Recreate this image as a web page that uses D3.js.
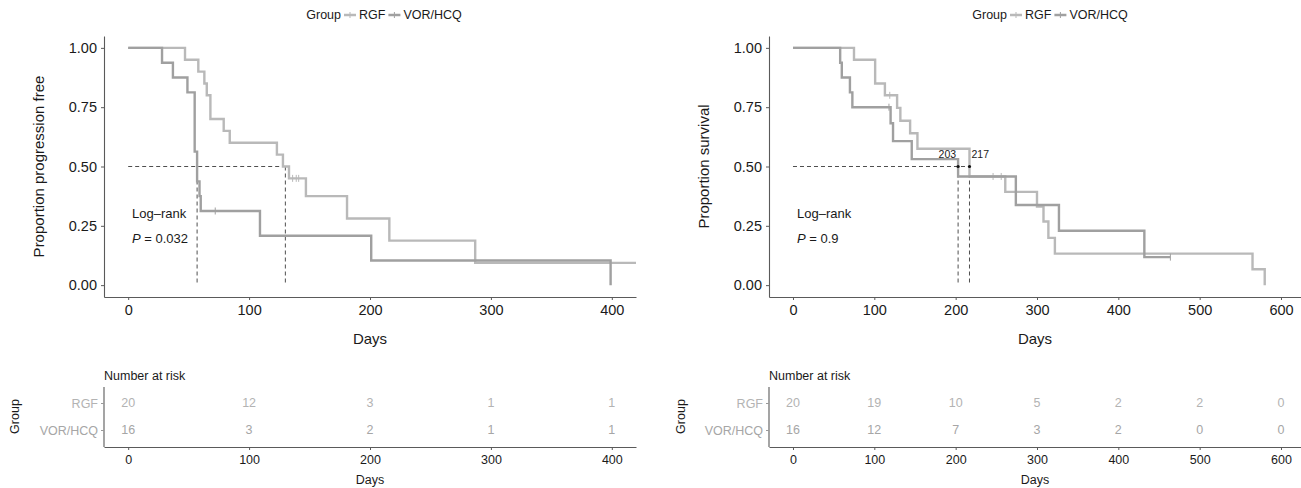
<!DOCTYPE html>
<html><head><meta charset="utf-8">
<script src="https://cdn.jsdelivr.net/npm/d3@7"></script>
<style>
body{margin:0;background:#fff;}
text{font-family:"Liberation Sans",Arial,Helvetica,sans-serif;}
</style>
</head><body>
<svg id="chart" width="1301" height="488"></svg>
<script>
// ---------- DATA ----------
const groups = ["RGF", "VOR/HCQ"];
const yTicks = [0, 0.25, 0.5, 0.75, 1];

// Left panel: progression-free
const pfsXTicks = [0, 100, 200, 300, 400];
const pfsRgfDays  = [0, 47, 58, 63, 65, 68, 79, 84, 123, 128, 133, 147, 181, 216, 287, 420];
const pfsRgfSurv  = [1, 0.95, 0.90, 0.85, 0.80, 0.70, 0.65, 0.60, 0.55, 0.50, 0.45, 0.375, 0.281, 0.1875, 0.094, 0.094];
const pfsRgfCensorDays = [136, 139, 141];
const pfsRgfCensorSurv = [0.45, 0.45, 0.45];
const pfsVorDays  = [0, 28, 37, 49, 55, 57, 59, 60, 109, 201, 399];
const pfsVorSurv  = [1, 0.9375, 0.875, 0.8125, 0.5625, 0.4375, 0.375, 0.3125, 0.208, 0.104, 0];
const pfsVorCensorDays = [72];
const pfsVorCensorSurv = [0.3125];
const pfsMedians = [57, 130];
const pfsRiskRgf = [20, 12, 3, 1, 1];
const pfsRiskVor = [16, 3, 2, 1, 1];
const pfsPValue = "0.032";

// Right panel: overall survival
const osXTicks = [0, 100, 200, 300, 400, 500, 600];
const osRgfDays = [0, 75, 101, 113, 128, 132, 144, 153, 217, 261, 300, 308, 314, 322, 565, 580];
const osRgfSurv = [1, 0.95, 0.85, 0.80, 0.747, 0.693, 0.64, 0.575, 0.458, 0.393, 0.331, 0.268, 0.199, 0.133, 0.067, 0];
const osRgfCensorDays = [119, 246, 256];
const osRgfCensorSurv = [0.80, 0.458, 0.458];
const osVorDays = [0, 58, 60, 70, 73, 120, 123, 146, 203, 274, 327, 432, 464];
const osVorSurv = [1, 0.9375, 0.875, 0.8125, 0.75, 0.682, 0.607, 0.531, 0.458, 0.338, 0.229, 0.118, 0.118];
const osVorCensorDays = [118, 464];
const osVorCensorSurv = [0.75, 0.118];
const osMedians = [203, 217];
const osRiskRgf = [20, 19, 10, 5, 2, 2, 0];
const osRiskVor = [16, 12, 7, 3, 2, 0, 0];
const osPValue = "0.9";

// ---------- STYLE ----------
const colRgf = "#b9b9b9";
const colVor = "#a0a0a0";
const txtRgf = "#b3b3b3";
const txtVor = "#a6a6a6";
const axisCol = "#5a5a5a";
const textCol = "#1a1a1a";

const svg = d3.select("#chart");

function zip(a, b) { return a.map((d, i) => [d, b[i]]); }

function drawPanel(cfg) {
  const g = svg.append("g");
  const x = d3.scaleLinear().domain(cfg.xDomain).range([cfg.left, cfg.right]);
  const y = d3.scaleLinear().domain([-0.05, 1.05]).range([297, 36]);

  // legend
  const lg = g.append("g");
  let lx = 0;
  const addText = (t) => {
    const el = lg.append("text").attr("x", lx).attr("y", 0).attr("dy", "0.35em")
      .attr("font-size", 12.5).attr("fill", textCol).text(t);
    lx += el.node().getComputedTextLength();
  };
  const addKey = (c) => {
    lx += 3;
    lg.append("line").attr("x1", lx).attr("x2", lx + 12).attr("y1", 0).attr("y2", 0)
      .attr("stroke", c).attr("stroke-width", 2.5);
    lg.append("line").attr("x1", lx + 6).attr("x2", lx + 6).attr("y1", -3).attr("y2", 3)
      .attr("stroke", c).attr("stroke-width", 1);
    lx += 15;
  };
  addText("Group");
  addKey(colRgf); addText("RGF");
  addKey(colVor); addText("VOR/HCQ");
  const lw = lx;
  lg.attr("transform", `translate(${cfg.legendX - lw / 2},15)`);

  // axes
  const ya = d3.axisLeft(y).tickValues(yTicks).tickFormat(d3.format(".2f")).tickSize(3).tickSizeOuter(0).tickPadding(4);
  const yg = g.append("g").attr("transform", `translate(${cfg.left},0)`).call(ya);
  const xa = d3.axisBottom(x).tickValues(cfg.xTicks).tickSize(3).tickSizeOuter(0).tickPadding(5);
  const xg = g.append("g").attr("transform", `translate(0,297)`).call(xa);
  [yg, xg].forEach(a => {
    a.select(".domain").attr("stroke", axisCol).attr("stroke-width", 1.1);
    a.selectAll(".tick line").attr("stroke", axisCol);
    a.selectAll(".tick text").attr("font-size", 14.5).attr("fill", textCol)
      .attr("font-family", '"Liberation Sans",Arial,sans-serif');
  });

  g.append("text").attr("transform", `translate(${cfg.left - 60},${(y(0) + y(1)) / 2}) rotate(-90)`)
    .attr("text-anchor", "middle").attr("font-size", 15).attr("fill", textCol).text(cfg.yTitle);
  g.append("text").attr("x", (cfg.left + cfg.right) / 2).attr("y", 344)
    .attr("text-anchor", "middle").attr("font-size", 15).attr("fill", textCol).text("Days");

  // median lines
  const dash = "4,3";
  const medMax = d3.max(cfg.medians);
  g.append("line").attr("x1", x(0)).attr("x2", x(medMax)).attr("y1", y(0.5)).attr("y2", y(0.5))
    .attr("stroke", "#222").attr("stroke-width", 0.8).attr("stroke-dasharray", dash);
  cfg.medians.forEach(m => {
    g.append("line").attr("x1", x(m)).attr("x2", x(m)).attr("y1", y(0.5)).attr("y2", y(0))
      .attr("stroke", "#222").attr("stroke-width", 0.8).attr("stroke-dasharray", dash);
  });

  // curves
  const line = d3.line().x(d => x(d[0])).y(d => y(d[1])).curve(d3.curveStepAfter);
  cfg.series.forEach(s => {
    g.append("path").datum(zip(s.days, s.surv)).attr("d", line)
      .attr("fill", "none").attr("stroke", s.color).attr("stroke-width", 2.4);
    zip(s.cDays, s.cSurv).forEach(c => {
      g.append("line").attr("x1", x(c[0])).attr("x2", x(c[0]))
        .attr("y1", y(c[1]) - 3.5).attr("y2", y(c[1]) + 3.5)
        .attr("stroke", s.color).attr("stroke-width", 1);
    });
  });

  if (cfg.medianLabels) {
    cfg.medians.forEach((m, i) => {
      g.append("circle").attr("cx", x(m)).attr("cy", y(0.5)).attr("r", 1.6).attr("fill", "#111");
      g.append("text").attr("x", x(m) + (i === 0 ? -2 : 2)).attr("y", y(0.5) - 9)
        .attr("text-anchor", i === 0 ? "end" : "start").attr("font-size", 10.5).attr("fill", textCol)
        .text(m);
    });
  }

  // log-rank text
  g.append("text").attr("x", x(cfg.xDomain[0]) + 28).attr("y", 218).attr("font-size", 13)
    .attr("fill", textCol).text("Log\u2013rank");
  const pt = g.append("text").attr("x", x(cfg.xDomain[0]) + 28).attr("y", 243).attr("font-size", 13).attr("fill", textCol);
  pt.append("tspan").attr("font-style", "italic").text("P");
  pt.append("tspan").text(" = " + cfg.p);

  // risk table
  const ry = d3.scalePoint().domain(groups).range([403, 430]);
  g.append("text").attr("x", cfg.left).attr("y", 380).attr("font-size", 12.5).attr("fill", textCol).text("Number at risk");
  const rya = d3.axisLeft(ry).tickSize(3).tickSizeOuter(0).tickPadding(3);
  const ryg = g.append("g").attr("transform", `translate(${cfg.left},0)`).call(rya);
  ryg.select(".domain").attr("d", `M0,387V447`).attr("stroke", axisCol).attr("stroke-width", 1.1);
  ryg.selectAll(".tick line").attr("stroke", "#999");
  ryg.selectAll(".tick text").attr("font-size", 12.5)
    .attr("fill", d => d === "RGF" ? txtRgf : txtVor)
    .attr("font-family", '"Liberation Sans",Arial,sans-serif');
  const rxa = d3.axisBottom(x).tickValues(cfg.xTicks).tickSize(3).tickSizeOuter(0).tickPadding(5);
  const rxg = g.append("g").attr("transform", `translate(0,447)`).call(rxa);
  rxg.select(".domain").attr("stroke", axisCol).attr("stroke-width", 1.1);
  rxg.selectAll(".tick line").attr("stroke", axisCol);
  rxg.selectAll(".tick text").attr("font-size", 12.5).attr("fill", textCol)
    .attr("font-family", '"Liberation Sans",Arial,sans-serif');
  g.append("text").attr("x", (cfg.left + cfg.right) / 2).attr("y", 484)
    .attr("text-anchor", "middle").attr("font-size", 12.5).attr("fill", textCol).text("Days");
  g.append("text").attr("transform", `translate(${cfg.groupTitleX},${(403 + 430) / 2}) rotate(-90)`)
    .attr("text-anchor", "middle").attr("font-size", 12.5).attr("fill", textCol).text("Group");

  [[cfg.riskRgf, "RGF", txtRgf], [cfg.riskVor, "VOR/HCQ", txtVor]].forEach(r => {
    r[0].forEach((v, i) => {
      g.append("text").attr("x", x(cfg.xTicks[i])).attr("y", ry(r[1])).attr("dy", "0.35em")
        .attr("text-anchor", "middle").attr("font-size", 12.5).attr("fill", r[2]).text(v);
    });
  });
}

drawPanel({
  left: 104, right: 636, xDomain: [-20, 420], xTicks: pfsXTicks, legendX: 384,
  yTitle: "Proportion progression free", medians: pfsMedians, medianLabels: false,
  p: pfsPValue, riskRgf: pfsRiskRgf, riskVor: pfsRiskVor, groupTitleX: 19,
  series: [
    {days: pfsRgfDays, surv: pfsRgfSurv, cDays: pfsRgfCensorDays, cSurv: pfsRgfCensorSurv, color: colRgf},
    {days: pfsVorDays, surv: pfsVorSurv, cDays: pfsVorCensorDays, cSurv: pfsVorCensorSurv, color: colVor}
  ]
});
drawPanel({
  left: 769, right: 1301, xDomain: [-29.5, 624.6], xTicks: osXTicks, legendX: 1050,
  yTitle: "Proportion survival", medians: osMedians, medianLabels: true,
  p: osPValue, riskRgf: osRiskRgf, riskVor: osRiskVor, groupTitleX: 685,
  series: [
    {days: osRgfDays, surv: osRgfSurv, cDays: osRgfCensorDays, cSurv: osRgfCensorSurv, color: colRgf},
    {days: osVorDays, surv: osVorSurv, cDays: osVorCensorDays, cSurv: osVorCensorSurv, color: colVor}
  ]
});
</script>
</body></html>
